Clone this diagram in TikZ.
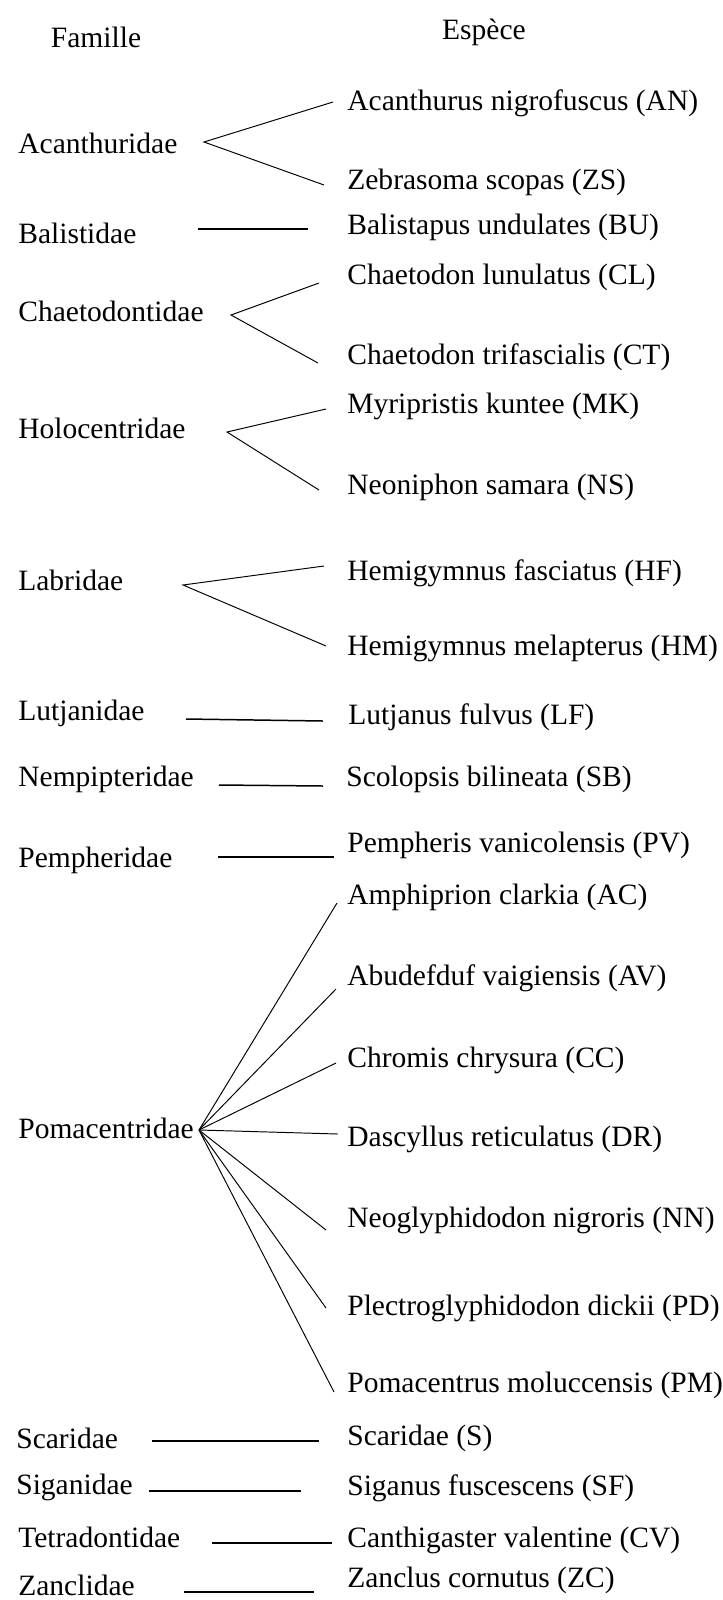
\documentclass[tikz,border=0pt]{standalone}
\usepackage{fontspec}
\setmainfont{Liberation Serif}

\begin{document}
\begin{tikzpicture}[x=0.02cm, y=-0.02cm,
      fam/.style={anchor=west, inner sep=0pt, font=\fontsize{16.8}{20}\selectfont},
      sp/.style={anchor=west, inner sep=0pt, font=\fontsize{16.8}{20}\selectfont},
      hd/.style={inner sep=0pt, font=\fontsize{16.8}{20}\selectfont},
      lnk/.style={line width=0.55pt},
      bar/.style={line width=0.85pt}
    ]
      \useasboundingbox (0,0) rectangle (723,1600);

      \node[hd] (famille) at (96,37) {Famille};
      \node[hd] (espece) at (484,32) {Espèce};

      % familles
      \node[fam] (aca) at (18,143) {Acanthuridae};
      \node[fam] (bal) at (18,233) {Balistidae};
      \node[fam] (cha) at (18,311) {Chaetodontidae};
      \node[fam] (hol) at (18,428) {Holocentridae};
      \node[fam] (lab) at (18,580) {Labridae};
      \node[fam] (lut) at (18,713) {Lutjanidae};
      \node[fam] (nem) at (18,779) {Nempipteridae};
      \node[fam] (pem) at (18,860) {Pempheridae};
      \node[fam] (pom) at (18,1128) {Pomacentridae};
      \node[fam] (sca) at (16,1438) {Scaridae};
      \node[fam] (sig) at (16,1487) {Siganidae};
      \node[fam] (tet) at (18,1537) {Tetradontidae};
      \node[fam] (zan) at (18,1585) {Zanclidae};

      % especes
      \node[sp] (AN) at (347,103) {Acanthurus nigrofuscus (AN)};
      \node[sp] (ZS) at (347,182) {Zebrasoma scopas (ZS)};
      \node[sp] (BU) at (347,227) {Balistapus undulates (BU)};
      \node[sp] (CL) at (347,277) {Chaetodon lunulatus (CL)};
      \node[sp] (CT) at (347,357) {Chaetodon trifascialis (CT)};
      \node[sp] (MK) at (347,406) {Myripristis kuntee (MK)};
      \node[sp] (NS) at (347,487) {Neoniphon samara (NS)};
      \node[sp] (HF) at (347,573) {Hemigymnus fasciatus (HF)};
      \node[sp] (HM) at (347,648) {Hemigymnus melapterus (HM)};
      \node[sp] (LF) at (348,717) {Lutjanus fulvus (LF)};
      \node[sp] (SB) at (346,779) {Scolopsis bilineata (SB)};
      \node[sp] (PV) at (347,845) {Pempheris vanicolensis (PV)};
      \node[sp] (AC) at (347,897) {Amphiprion clarkia (AC)};
      \node[sp] (AV) at (347,978) {Abudefduf vaigiensis (AV)};
      \node[sp] (CC) at (347,1060) {Chromis chrysura (CC)};
      \node[sp] (DR) at (347,1139) {Dascyllus reticulatus (DR)};
      \node[sp] (NN) at (347,1220) {Neoglyphidodon nigroris (NN)};
      \node[sp] (PD) at (347,1308) {Plectroglyphidodon dickii (PD)};
      \node[sp] (PM) at (347,1385) {Pomacentrus moluccensis (PM)};
      \node[sp] (S) at (347,1438) {Scaridae (S)};
      \node[sp] (SF) at (347,1488) {Siganus fuscescens (SF)};
      \node[sp] (CV) at (347,1540) {Canthigaster valentine (CV)};
      \node[sp] (ZC) at (347,1580) {Zanclus cornutus (ZC)};

      % points de depart (familles)
      \coordinate (acaR) at (204,142);
      \coordinate (balR) at (198,229);
      \coordinate (chaR) at (231,315);
      \coordinate (holR) at (227,432);
      \coordinate (labR) at (183,585);
      \coordinate (lutR) at (186,719);
      \coordinate (nemR) at (219,785);
      \coordinate (pemR) at (218,857);
      \coordinate (pomR) at (199,1130);
      \coordinate (scaR) at (152,1441);
      \coordinate (sigR) at (149,1491);
      \coordinate (tetR) at (212,1543);
      \coordinate (zanR) at (184,1592);

      % points d'arrivee (especes)
      \coordinate (ANL) at (333,102);
      \coordinate (ZSL) at (324,185);
      \coordinate (BUL) at (308,229);
      \coordinate (CLL) at (319,283);
      \coordinate (CTL) at (318,363);
      \coordinate (MKL) at (326,409);
      \coordinate (NSL) at (319,490);
      \coordinate (HFL) at (324,566);
      \coordinate (HML) at (326,646);
      \coordinate (LFL) at (323,721);
      \coordinate (SBL) at (323,786);
      \coordinate (PVL) at (334,857);
      \coordinate (ACL) at (337,903);
      \coordinate (AVL) at (336,989);
      \coordinate (CCL) at (336,1063);
      \coordinate (DRL) at (338,1134);
      \coordinate (NNL) at (326,1230);
      \coordinate (PDL) at (326,1308);
      \coordinate (PML) at (334,1392);
      \coordinate (SL) at (319,1441);
      \coordinate (SFL) at (301,1491);
      \coordinate (CVL) at (332,1543);
      \coordinate (ZCL) at (314,1592);

      \draw[lnk] (ANL) -- (acaR) -- (ZSL);
      \draw[bar] (balR) -- (BUL);
      \draw[lnk] (CLL) -- (chaR) -- (CTL);
      \draw[lnk] (MKL) -- (holR) -- (NSL);
      \draw[lnk] (HFL) -- (labR) -- (HML);
      \draw[bar] (lutR) -- (LFL);
      \draw[bar] (nemR) -- (SBL);
      \draw[bar] (pemR) -- (PVL);
      \draw[lnk] (pomR) -- (ACL);
      \draw[lnk] (pomR) -- (AVL);
      \draw[lnk] (pomR) -- (CCL);
      \draw[lnk] (pomR) -- (DRL);
      \draw[lnk] (pomR) -- (NNL);
      \draw[lnk] (pomR) -- (PDL);
      \draw[lnk] (pomR) -- (PML);
      \draw[bar] (scaR) -- (SL);
      \draw[bar] (sigR) -- (SFL);
      \draw[bar] (tetR) -- (CVL);
      \draw[bar] (zanR) -- (ZCL);
    \end{tikzpicture}
\end{document}
